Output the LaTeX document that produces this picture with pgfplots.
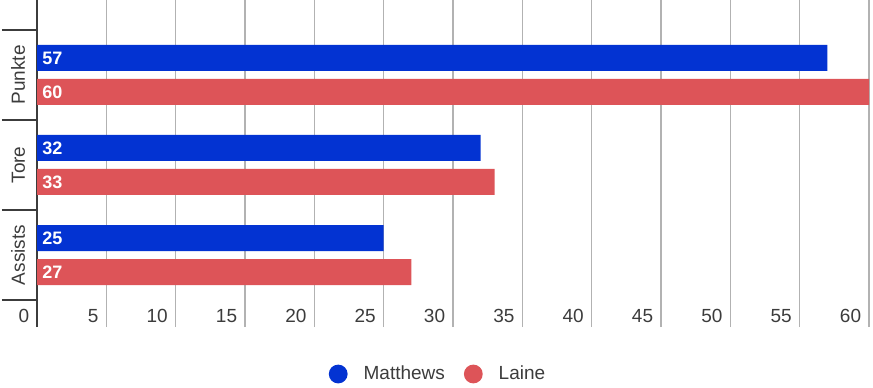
\documentclass[border=0pt]{standalone}
\usepackage{fontspec}
\setmainfont{Liberation Sans}
\usepackage{pgfplots}
\pgfplotsset{compat=1.18}
\definecolor{mblue}{RGB}{3,51,210}
\definecolor{lred}{RGB}{221,84,88}
\definecolor{txt}{RGB}{60,60,60}
\definecolor{gridc}{RGB}{178,178,178}
\definecolor{axc}{RGB}{60,60,60}
\newcommand{\tfont}{\fontsize{9.5}{11}\selectfont}
\newcommand{\bfont}{\bfseries\fontsize{9}{10}\selectfont}
\begin{document}
\begin{tikzpicture}
\begin{axis}[
  scale only axis, width=416pt, height=163.5pt,
  xmin=0, xmax=60, ymin=-0.8, ymax=2.8333,
  axis line style={draw=none},
  /pgf/number format/assume math mode=true,
  xtick={5,10,...,60},
  xmajorgrids,
  major grid style={gridc, line width=0.6pt},
  extra x ticks={0},
  extra x tick labels={0},
  extra x tick style={grid=major, major grid style={axc, line width=1pt}},
  xtick style={draw=none},
  tick align=outside,
  major tick length=17.5pt,
  xticklabel style={font=\tfont, text=txt, anchor=base east, inner sep=0pt, xshift=-3.75pt, yshift=19.75pt},
  ytick={-0.5,0.5,1.5,2.5},
  yticklabels={},
  ytick pos=left,
  ytick style={axc, line width=0.6pt},
  extra y ticks={0,1,2},
  extra y tick labels={Assists,Tore,Punkte},
  extra y tick style={major tick length=0pt, yticklabel style={font=\tfont, text=axc, rotate=90, anchor=base, inner sep=0pt, yshift=6pt}},
  legend style={at={(0.4808,0)}, anchor=center, yshift=-23.5pt, draw=none, fill=none,
    legend columns=-1, font=\tfont, text=txt, inner sep=0pt,
    nodes={inner sep=0pt},
    /tikz/every odd column/.append style={column sep=8pt},
    /tikz/every even column/.append style={column sep=9.5pt}},
]
\addplot[xbar, fill=mblue, draw=none, bar width=13pt, bar shift=8.5pt,
  legend image code/.code={\fill[mblue] (0pt,0pt) circle (4.7pt);}]
  coordinates {(57,2) (32,1) (25,0)};
\addlegendentry{Matthews}
\addplot[xbar, fill=lred, draw=none, bar width=13pt, bar shift=-8.5pt,
  legend image code/.code={\fill[lred] (0pt,0pt) circle (4.7pt);}]
  coordinates {(60,2) (33,1) (27,0)};
\addlegendentry{Laine}
\addplot[draw=none, forget plot, nodes near coords, point meta=explicit symbolic,
  every node near coord/.append style={anchor=west, inner sep=0pt, xshift=2.5pt, text=white, font=\bfont}]
  coordinates {(0,2.1889) [57] (0,1.1889) [32] (0,0.1889) [25]};
\addplot[draw=none, forget plot, nodes near coords, point meta=explicit symbolic,
  every node near coord/.append style={anchor=west, inner sep=0pt, xshift=2.5pt, text=white, font=\bfont}]
  coordinates {(0,1.8111) [60] (0,0.8111) [33] (0,-0.1889) [27]};
\end{axis}
\pgfresetboundingbox
\path ([xshift=-18.5pt,yshift=-30pt]current axis.south west) rectangle ([xshift=2pt]current axis.north east);
\end{tikzpicture}
\end{document}
